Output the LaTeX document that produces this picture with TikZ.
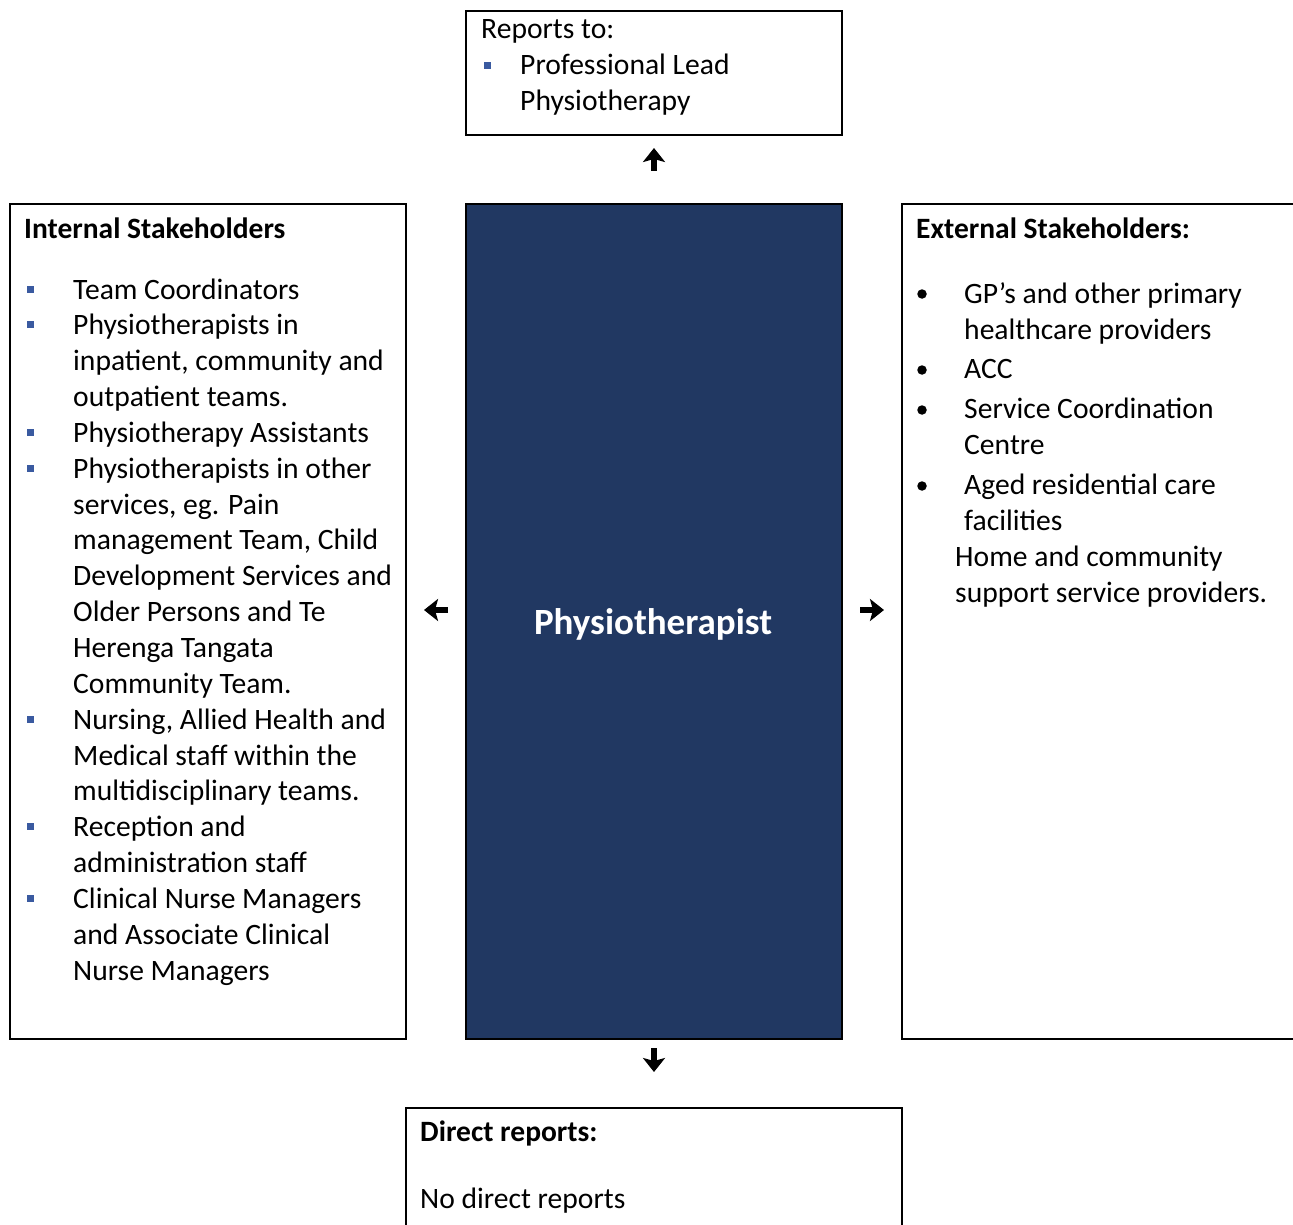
\documentclass[tikz,border=0pt]{standalone}
\usepackage{fontspec}
\setmainfont{Carlito}
\usetikzlibrary{arrows.meta}
\definecolor{navy}{RGB}{33,56,98}
\definecolor{bulletblue}{RGB}{58,90,160}
\begin{document}
\begin{tikzpicture}[x=1pt,y=-1pt,
  box/.style={draw=black,line width=2pt,inner sep=0pt,anchor=north west},
  txt/.style={anchor=base west,inner sep=0pt,font=\fontsize{29.6}{36}\selectfont},
  btxt/.style={anchor=base west,inner sep=0pt,font=\bfseries\fontsize{29.5}{36}\selectfont},
  sq/.style={fill=bulletblue,minimum size=7pt,inner sep=0pt},
  dot/.style={fill=black,circle,minimum size=9.5pt,inner sep=0pt},
  arr/.style={line width=5.5pt,-{Stealth[length=14pt,width=22pt,inset=3pt]}}]
\useasboundingbox (0,0) rectangle (1293,1225);

% boxes
\node[box,minimum width=376pt,minimum height=124pt] (top) at (465,10) {};
\node[box,minimum width=396pt,minimum height=835pt] (int) at (9,203) {};
\node[box,fill=navy,minimum width=376pt,minimum height=835pt] (ctr) at (465,203) {};
\node[box,minimum width=410pt,minimum height=835pt] (ext) at (901,203) {};
\node[box,minimum width=496pt,minimum height=140pt] (bot) at (405,1107) {};
\node[anchor=base,inner sep=0pt,text=white,font=\bfseries\fontsize{37}{44}\selectfont] (title) at (653,634) {Physiotherapist};

% arrows
\draw[arr,shorten <=32pt,shorten >=12pt] (ctr.north) -- (top.south);
\draw[arr,shorten <=17pt,shorten >=17pt] ([yshift=11.5pt]ctr.west) -- ([yshift=11.5pt]int.east);
\draw[arr,shorten <=17pt,shorten >=17pt] ([yshift=11.5pt]ctr.east) -- ([yshift=11.5pt]ext.west);
\draw[arr,shorten <=8pt,shorten >=35pt] (ctr.south) -- (bot.north);

% top box text
\node[txt] (rep) at (481,39) {Reports to:};
\node[sq] (repb) at (487,65.5) {};
\node[txt] (rep1) at (520,75) {Professional Lead};
\node[txt] (rep2) at (520,111) {Physiotherapy};

% internal stakeholders
\node[btxt] (inth) at (24,238) {Internal Stakeholders};
\foreach \t [count=\n] in {{Team Coordinators},{Physiotherapists in},{inpatient, community and},{outpatient teams.},{Physiotherapy Assistants},{Physiotherapists in other},{services, eg. Pain},{management Team, Child},{Development Services and},{Older Persons and Te},{Herenga Tangata},{Community Team.},{Nursing, Allied Health and},{Medical staff within the},{multidisciplinary teams.},{Reception and},{administration staff},{Clinical Nurse Managers},{and Associate Clinical},{Nurse Managers}}
  \node[txt] (int\n) at (73,{299+(\n-1)*35.85}) {\t};
\foreach \n in {1,2,5,6,13,16,18}
  \node[sq] (intb\n) at (30.5,{289+(\n-1)*35.85}) {};

% external stakeholders
\node[btxt] (exth) at (916,238) {External Stakeholders:};
\node[txt] (ext1) at (964,303) {GP’s and other primary};
\node[txt] (ext2) at (964,339) {healthcare providers};
\node[txt] (ext3) at (964,378) {ACC};
\node[txt] (ext4) at (964,418) {Service Coordination};
\node[txt] (ext5) at (964,454) {Centre};
\node[txt] (ext6) at (964,494) {Aged residential care};
\node[txt] (ext7) at (964,530) {facilities};
\node[txt] (ext8) at (955,566) {Home and community};
\node[txt] (ext9) at (955,602) {support service providers.};
\node[dot] (extd1) at (922,294) {};
\node[dot] (extd2) at (922,370) {};
\node[dot] (extd3) at (922,410) {};
\node[dot] (extd4) at (922,486) {};

% bottom box text
\node[btxt] (dir) at (420,1141) {Direct reports:};
\node[txt] (dir1) at (420,1208) {No direct reports};
\end{tikzpicture}
\end{document}
